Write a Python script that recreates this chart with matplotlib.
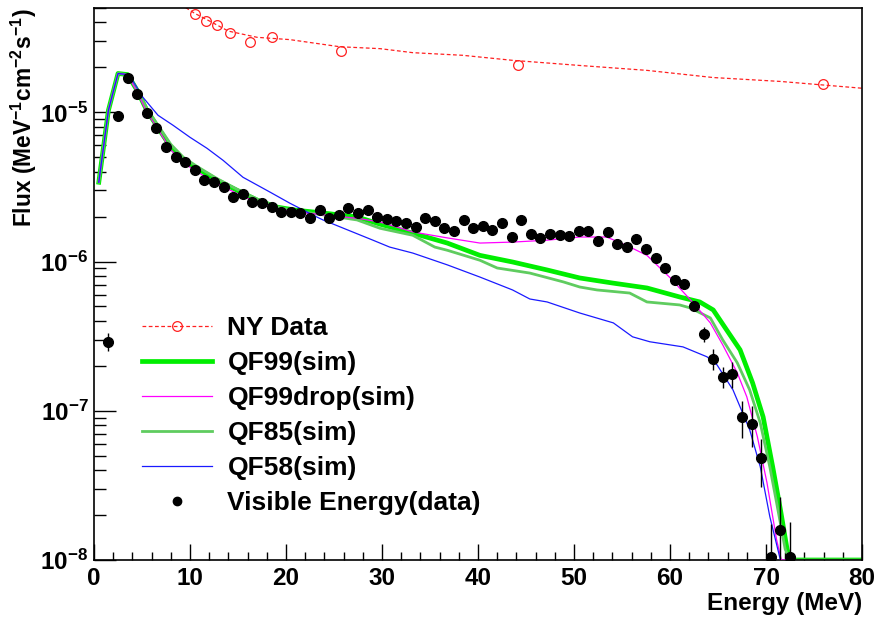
#!/usr/bin/env python3
"""
Visible-energy flux spectrum vs. simulated quenching factors, with NY data.
Writes out.png.
"""

import numpy as np
import matplotlib
matplotlib.use("Agg")
import matplotlib.pyplot as plt
from matplotlib.lines import Line2D
from matplotlib.ticker import LogLocator, MultipleLocator, FuncFormatter, NullFormatter


# -------------------------------------------------
# Data
# -------------------------------------------------
# measured visible-energy spectrum, 1 MeV bins (centres at 1.5 ... 72.5 MeV)
vis_energy = np.arange(1.5, 73.0, 1.0)
vis_flux = [
    2.9e-7, 9.4e-6, 1.71e-5, 1.32e-5, 9.85e-6, 7.9e-6, 5.9e-6, 5.0e-6, 4.63e-6, 4.09e-6,
    3.5e-6, 3.4e-6, 3.15e-6, 2.7e-6, 2.83e-6, 2.5e-6, 2.46e-6, 2.32e-6, 2.14e-6, 2.14e-6,
    2.11e-6, 1.95e-6, 2.21e-6, 1.95e-6, 2.05e-6, 2.28e-6, 2.11e-6, 2.21e-6, 1.99e-6, 1.92e-6,
    1.87e-6, 1.81e-6, 1.70e-6, 1.95e-6, 1.87e-6, 1.67e-6, 1.60e-6, 1.90e-6, 1.67e-6, 1.73e-6,
    1.62e-6, 1.81e-6, 1.46e-6, 1.90e-6, 1.53e-6, 1.44e-6, 1.53e-6, 1.50e-6, 1.48e-6, 1.60e-6,
    1.60e-6, 1.37e-6, 1.58e-6, 1.31e-6, 1.25e-6, 1.42e-6, 1.21e-6, 1.05e-6, 9.05e-7, 7.5e-7,
    7.1e-7, 5.0e-7, 3.27e-7, 2.23e-7, 1.69e-7, 1.77e-7, 9.1e-8, 8.2e-8, 4.8e-8, 1.05e-8,
    1.6e-8, 1.05e-8,
]
vis_err = [
    4.0e-8, 2.0e-7, 3.0e-7, 2.5e-7, 2.0e-7, 1.6e-7, 1.2e-7, 1.0e-7, 9.0e-8, 8.0e-8,
    7.0e-8, 7.0e-8, 6.0e-8, 5.5e-8, 5.5e-8, 5.0e-8, 5.0e-8, 4.5e-8, 4.5e-8, 4.5e-8,
    4.5e-8, 4.0e-8, 4.5e-8, 4.0e-8, 4.0e-8, 4.5e-8, 4.5e-8, 4.5e-8, 4.0e-8, 4.0e-8,
    4.0e-8, 4.0e-8, 4.0e-8, 4.0e-8, 4.0e-8, 4.0e-8, 4.0e-8, 4.0e-8, 4.0e-8, 4.0e-8,
    4.0e-8, 4.0e-8, 4.0e-8, 4.0e-8, 4.0e-8, 4.0e-8, 4.0e-8, 4.0e-8, 4.0e-8, 4.0e-8,
    4.0e-8, 4.0e-8, 4.0e-8, 4.0e-8, 4.0e-8, 4.0e-8, 4.0e-8, 4.0e-8, 4.0e-8, 4.0e-8,
    4.0e-8, 3.0e-8, 3.6e-8, 3.5e-8, 2.7e-8, 3.5e-8, 2.5e-8, 2.5e-8, 1.7e-8, 7.0e-9,
    1.05e-8, 7.5e-9,
]

# NY data points and the curve through them
ny_energy = [10.5, 11.7, 12.8, 14.2, 16.2, 18.5, 25.7, 44.2, 75.9]
ny_flux = [4.59e-5, 4.06e-5, 3.82e-5, 3.38e-5, 2.98e-5, 3.22e-5, 2.56e-5, 2.06e-5, 1.54e-5]
ny_curve_energy = [9.0, 10.5, 12.0, 14.0, 17.0, 20.4, 25.6, 29.8, 33.2, 38.4, 43.6, 50.6,
                   57.6, 64.5, 71.5, 80.0]
ny_curve_flux = [5.3e-5, 4.6e-5, 4.1e-5, 3.5e-5, 3.18e-5, 3.07e-5, 2.75e-5, 2.67e-5, 2.51e-5,
                 2.41e-5, 2.23e-5, 2.06e-5, 1.91e-5, 1.71e-5, 1.61e-5, 1.45e-5]

# simulated spectra
qf99_energy = [0.5, 1.5, 2.5, 3.5, 4.5, 5.5, 6.5, 8.0, 9.3, 10.7, 12.8, 14.9, 17.0, 19.0, 21.0,
               24.0, 27.4, 29.8, 33.2, 36.8, 40.2, 43.6, 47.2, 50.6, 54.0, 57.6, 61.0, 63.1,
               64.5, 65.9, 67.3, 68.6, 69.7, 70.7, 71.5, 72.2, 72.5, 80.0]
qf99_flux = [3.4e-6, 1.03e-5, 1.82e-5, 1.79e-5, 1.40e-5, 1.03e-5, 8.2e-6, 5.83e-6, 4.77e-6,
             4.22e-6, 3.51e-6, 3.0e-6, 2.58e-6, 2.32e-6, 2.21e-6, 2.11e-6, 1.99e-6, 1.78e-6,
             1.55e-6, 1.33e-6, 1.10e-6, 9.93e-7, 8.78e-7, 7.76e-7, 7.18e-7, 6.65e-7, 5.79e-7,
             5.36e-7, 4.74e-7, 3.48e-7, 2.56e-7, 1.54e-7, 9.1e-8, 4.2e-8, 2.18e-8, 1.18e-8,
             1.0e-8, 1.0e-8]

qf99drop_energy = [0.5, 1.5, 2.5, 3.5, 4.5, 5.5, 6.5, 8.0, 9.3, 10.7, 12.8, 14.9, 17.0, 19.0,
                   21.0, 24.0, 27.4, 29.8, 33.2, 36.8, 40.2, 43.6, 47.2, 50.6, 53.4, 55.5,
                   57.6, 60.0, 62.4, 64.2, 65.5, 67.0, 68.0, 69.1, 70.1, 71.1, 71.6, 72.5]
qf99drop_flux = [3.4e-6, 1.03e-5, 1.82e-5, 1.79e-5, 1.36e-5, 1.0e-5, 8.0e-6, 5.6e-6, 4.6e-6,
                 4.0e-6, 3.35e-6, 2.85e-6, 2.5e-6, 2.25e-6, 2.15e-6, 2.05e-6, 1.95e-6, 1.84e-6,
                 1.58e-6, 1.44e-6, 1.33e-6, 1.35e-6, 1.39e-6, 1.46e-6, 1.46e-6, 1.28e-6,
                 1.10e-6, 7.8e-7, 5.3e-7, 3.88e-7, 2.76e-7, 1.8e-7, 1.24e-7, 6.7e-8, 3.3e-8,
                 1.37e-8, 1.0e-8, 1.0e-8]

qf85_energy = [0.5, 1.5, 2.5, 3.5, 4.5, 5.5, 6.5, 8.0, 9.3, 10.7, 12.8, 14.9, 17.0, 19.0, 21.0,
               24.0, 27.4, 29.8, 33.2, 35.5, 36.8, 40.2, 42.0, 45.4, 48.9, 50.6, 52.4, 55.8,
               57.6, 61.0, 62.1, 64.2, 65.5, 67.0, 68.3, 69.4, 70.4, 71.1, 72.0, 72.5, 80.0]
qf85_flux = [3.4e-6, 1.03e-5, 1.82e-5, 1.79e-5, 1.42e-5, 1.06e-5, 8.5e-6, 6.1e-6, 5.0e-6,
             4.35e-6, 3.6e-6, 3.05e-6, 2.62e-6, 2.33e-6, 2.18e-6, 2.05e-6, 1.9e-6, 1.67e-6,
             1.50e-6, 1.25e-6, 1.19e-6, 1.02e-6, 9.05e-7, 8.37e-7, 7.3e-7, 6.75e-7, 6.45e-7,
             6.15e-7, 5.36e-7, 5.12e-7, 4.89e-7, 4.19e-7, 2.98e-7, 2.1e-7, 1.38e-7, 8.3e-8,
             4.2e-8, 2.43e-8, 1.18e-8, 1.0e-8, 1.0e-8]

qf58_energy = [0.5, 1.5, 2.5, 3.5, 4.0, 5.1, 6.67, 8.23, 10.0, 11.77, 13.44, 15.52, 18.33,
               20.4, 23.2, 23.85, 29.06, 30.8, 33.2, 36.8, 40.2, 43.6, 45.4, 47.2, 50.6, 54.1,
               56.1, 57.9, 61.35, 63.85, 64.9, 66.56, 68.3, 69.4, 70.4, 71.5]
qf58_flux = [3.4e-6, 1.03e-5, 1.82e-5, 1.79e-5, 1.64e-5, 1.26e-5, 9.55e-6, 8.19e-6, 6.8e-6,
             5.74e-6, 4.77e-6, 3.67e-6, 2.92e-6, 2.46e-6, 1.99e-6, 1.90e-6, 1.39e-6, 1.25e-6,
             1.14e-6, 9.5e-7, 7.87e-7, 6.45e-7, 5.61e-7, 5.36e-7, 4.52e-7, 3.88e-7, 3.13e-7,
             2.90e-7, 2.68e-7, 2.30e-7, 2.03e-7, 1.38e-7, 7.46e-8, 4.22e-8, 1.95e-8, 1.0e-8]

legend_labels = ["NY Data", "QF99(sim)", "QF99drop(sim)", "QF85(sim)", "QF58(sim)",
                 "Visible Energy(data)"]


def set_style():
    plt.rcParams.update({
        "font.family": "Liberation Sans",
        "font.weight": "bold",
        "font.size": 17.5,
        "mathtext.fontset": "custom",
        "mathtext.rm": "Liberation Sans:bold",
        "mathtext.bf": "Liberation Sans:bold",
        "mathtext.it": "Liberation Sans:bold:italic",
        "axes.unicode_minus": True,
    })


def pow10_label(v, pos):
    if v <= 0:
        return ""
    return r"$\mathbf{10^{%d}}$" % int(round(np.log10(v)))


def main():
    set_style()

    fig = plt.figure(figsize=(8.89, 6.19), dpi=100)
    ax = fig.add_axes([94 / 889, 1 - 560 / 619, 768 / 889, 552 / 619])

    # simulations
    ax.plot(qf99_energy, qf99_flux, color="#00ee00", lw=3.4, zorder=2)
    ax.plot(qf99drop_energy, qf99drop_flux, color="#ff00ff", lw=0.9, zorder=3)
    ax.plot(qf85_energy, qf85_flux, color="#5fcc5f", lw=2.0, zorder=2.5)
    ax.plot(qf58_energy, qf58_flux, color="#1a1aff", lw=0.9, zorder=3)

    # NY data
    ax.plot(ny_curve_energy, ny_curve_flux, color="#ff2020", lw=0.9,
            linestyle=(0, (3, 2)), zorder=2)
    ax.plot(ny_energy, ny_flux, linestyle="none", marker="o", ms=7, mfc="none",
            mec="#ff2020", mew=0.9, zorder=4)

    # measured visible energy
    ax.errorbar(vis_energy, vis_flux, yerr=vis_err, fmt="o", color="black", ms=7,
                elinewidth=1.0, capsize=0, zorder=5)

    ax.set_xlim(0, 80)
    ax.set_yscale("log")
    ax.set_ylim(1e-8, 5e-5)

    ax.xaxis.set_major_locator(MultipleLocator(10))
    ax.xaxis.set_minor_locator(MultipleLocator(2))
    ax.yaxis.set_major_locator(LogLocator(base=10))
    ax.yaxis.set_minor_locator(LogLocator(base=10, subs=np.arange(2, 10)))
    ax.yaxis.set_major_formatter(FuncFormatter(pow10_label))
    ax.yaxis.set_minor_formatter(NullFormatter())

    ax.tick_params(axis="x", which="major", direction="in", length=11.5, width=1.0, pad=5)
    ax.tick_params(axis="x", which="minor", direction="in", length=5.8, width=1.0)
    ax.tick_params(axis="y", which="major", direction="in", length=16, width=1.0, pad=4)
    ax.tick_params(axis="y", which="minor", direction="in", length=8.5, width=1.0)
    ax.tick_params(top=False, right=False, which="both")

    for spine in ax.spines.values():
        spine.set_linewidth(1.2)
        spine.set_edgecolor("black")

    ax.set_xlabel("Energy (MeV)", loc="right", fontweight="bold")
    ax.xaxis.set_label_coords(1.0, -0.058)
    ax.set_ylabel(r"Flux (MeV$^{-1}$cm$^{-2}$s$^{-1}$)", loc="top", fontweight="bold",
                  fontsize=16.4)
    ax.yaxis.set_label_coords(-0.071, 1.0)

    handles = [
        Line2D([], [], color="#ff2020", lw=0.9, linestyle=(0, (3, 2)), marker="o", ms=7,
               mfc="none", mec="#ff2020", mew=0.9),
        Line2D([], [], color="#00ee00", lw=3.4),
        Line2D([], [], color="#ff00ff", lw=0.9),
        Line2D([], [], color="#5fcc5f", lw=2.0),
        Line2D([], [], color="#1a1aff", lw=0.9),
        Line2D([], [], color="black", linestyle="none", marker="o", ms=6),
    ]
    ax.legend(handles, legend_labels, loc="upper left", bbox_to_anchor=(0.062, 0.442),
              frameon=False, fontsize=19, handlelength=2.65, handletextpad=0.6,
              labelspacing=0.42, borderpad=0, borderaxespad=0)

    fig.savefig("out.png", dpi=100)
    plt.close(fig)


if __name__ == "__main__":
    main()
